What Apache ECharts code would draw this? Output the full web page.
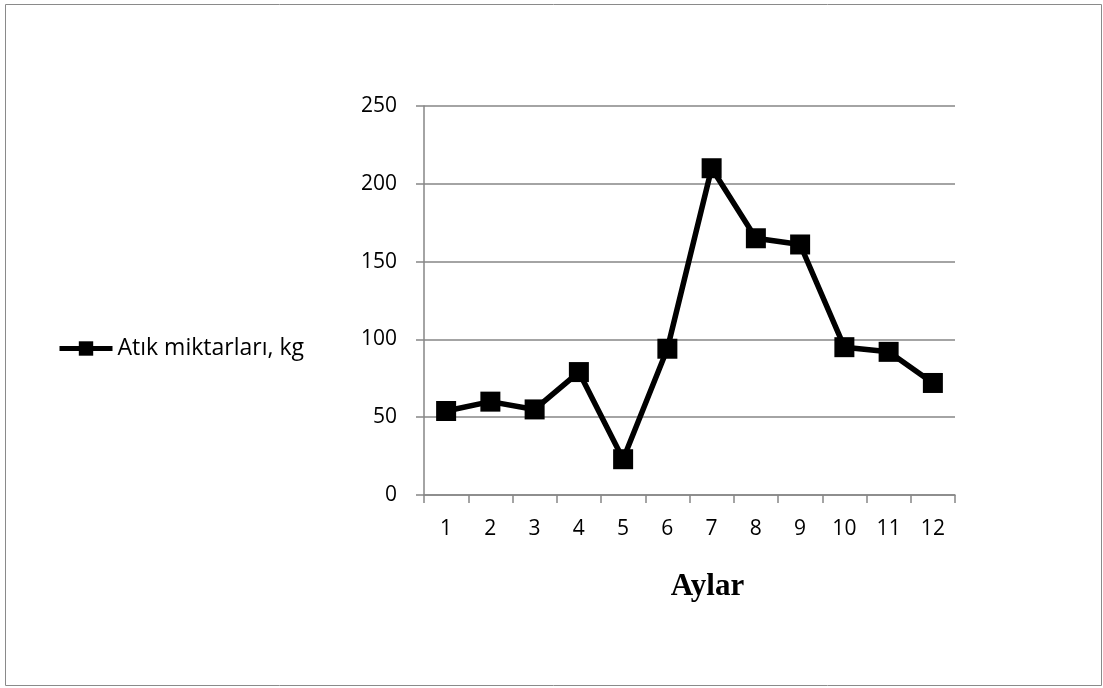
<!DOCTYPE html>
<html><head><meta charset="utf-8">
<script src="https://cdn.jsdelivr.net/npm/echarts@6/dist/echarts.min.js"></script>
<style>html,body{margin:0;padding:0;background:#fff}#c{width:1103px;height:688px}</style>
</head><body><div id="c"></div>
<script>
const categories = ['1','2','3','4','5','6','7','8','9','10','11','12'];
const values = [54, 60, 55, 79, 23, 94, 210, 165, 161, 95, 92, 72];
const seriesName = 'Atık miktarları, kg';
const xAxisTitle = 'Aylar';
const yTicks = {min: 0, max: 250, interval: 50};

const chart = echarts.init(document.getElementById('c'));
chart.setOption({
  animation: false,
  backgroundColor: '#fff',
  graphic: [{type: 'rect', left: 3, top: 2, shape: {x: 0, y: 0, width: 1096, height: 681}, style: {fill: 'none', stroke: '#8a8a8a', lineWidth: 1}}],
  legend: {
    left: 57, top: 337, orient: 'vertical', padding: 0,
    itemWidth: 53, itemHeight: 18, itemGap: 0,
    lineStyle: {width: 5, color: '#000'},
    textStyle: {fontFamily: 'Open Sans', fontSize: 23, color: '#000', padding: [0, 0, 0, 0]},
    data: [{name: seriesName}]
  },
  grid: {left: 424, top: 106, right: 148, bottom: 193},
  xAxis: {
    type: 'category', data: categories, boundaryGap: true,
    name: xAxisTitle, nameLocation: 'middle', nameGap: 76,
    nameTextStyle: {fontFamily: 'Liberation Serif', fontWeight: 'bold', fontSize: 31, color: '#000', padding: [0, 0, 0, 36]},
    axisLine: {lineStyle: {color: '#868686', width: 1.5}},
    axisTick: {show: true, alignWithLabel: false, length: 8, lineStyle: {color: '#868686', width: 1.5}},
    axisLabel: {fontFamily: 'Open Sans', fontSize: 21, color: '#000', margin: 24},
    splitLine: {show: false}
  },
  yAxis: {
    type: 'value', min: yTicks.min, max: yTicks.max, interval: yTicks.interval,
    axisLine: {show: true, lineStyle: {color: '#868686', width: 1.5}},
    axisTick: {show: true, inside: false, length: 8, lineStyle: {color: '#868686', width: 1.5}},
    axisLabel: {fontFamily: 'Open Sans', fontSize: 21, color: '#000', margin: 27},
    splitLine: {show: true, lineStyle: {color: '#868686', width: 1.5}}
  },
  series: [{
    name: seriesName, type: 'line', data: values,
    symbol: 'rect', symbolSize: 20,
    lineStyle: {color: '#000', width: 5.5},
    itemStyle: {color: '#000'}
  }]
});
</script></body></html>
